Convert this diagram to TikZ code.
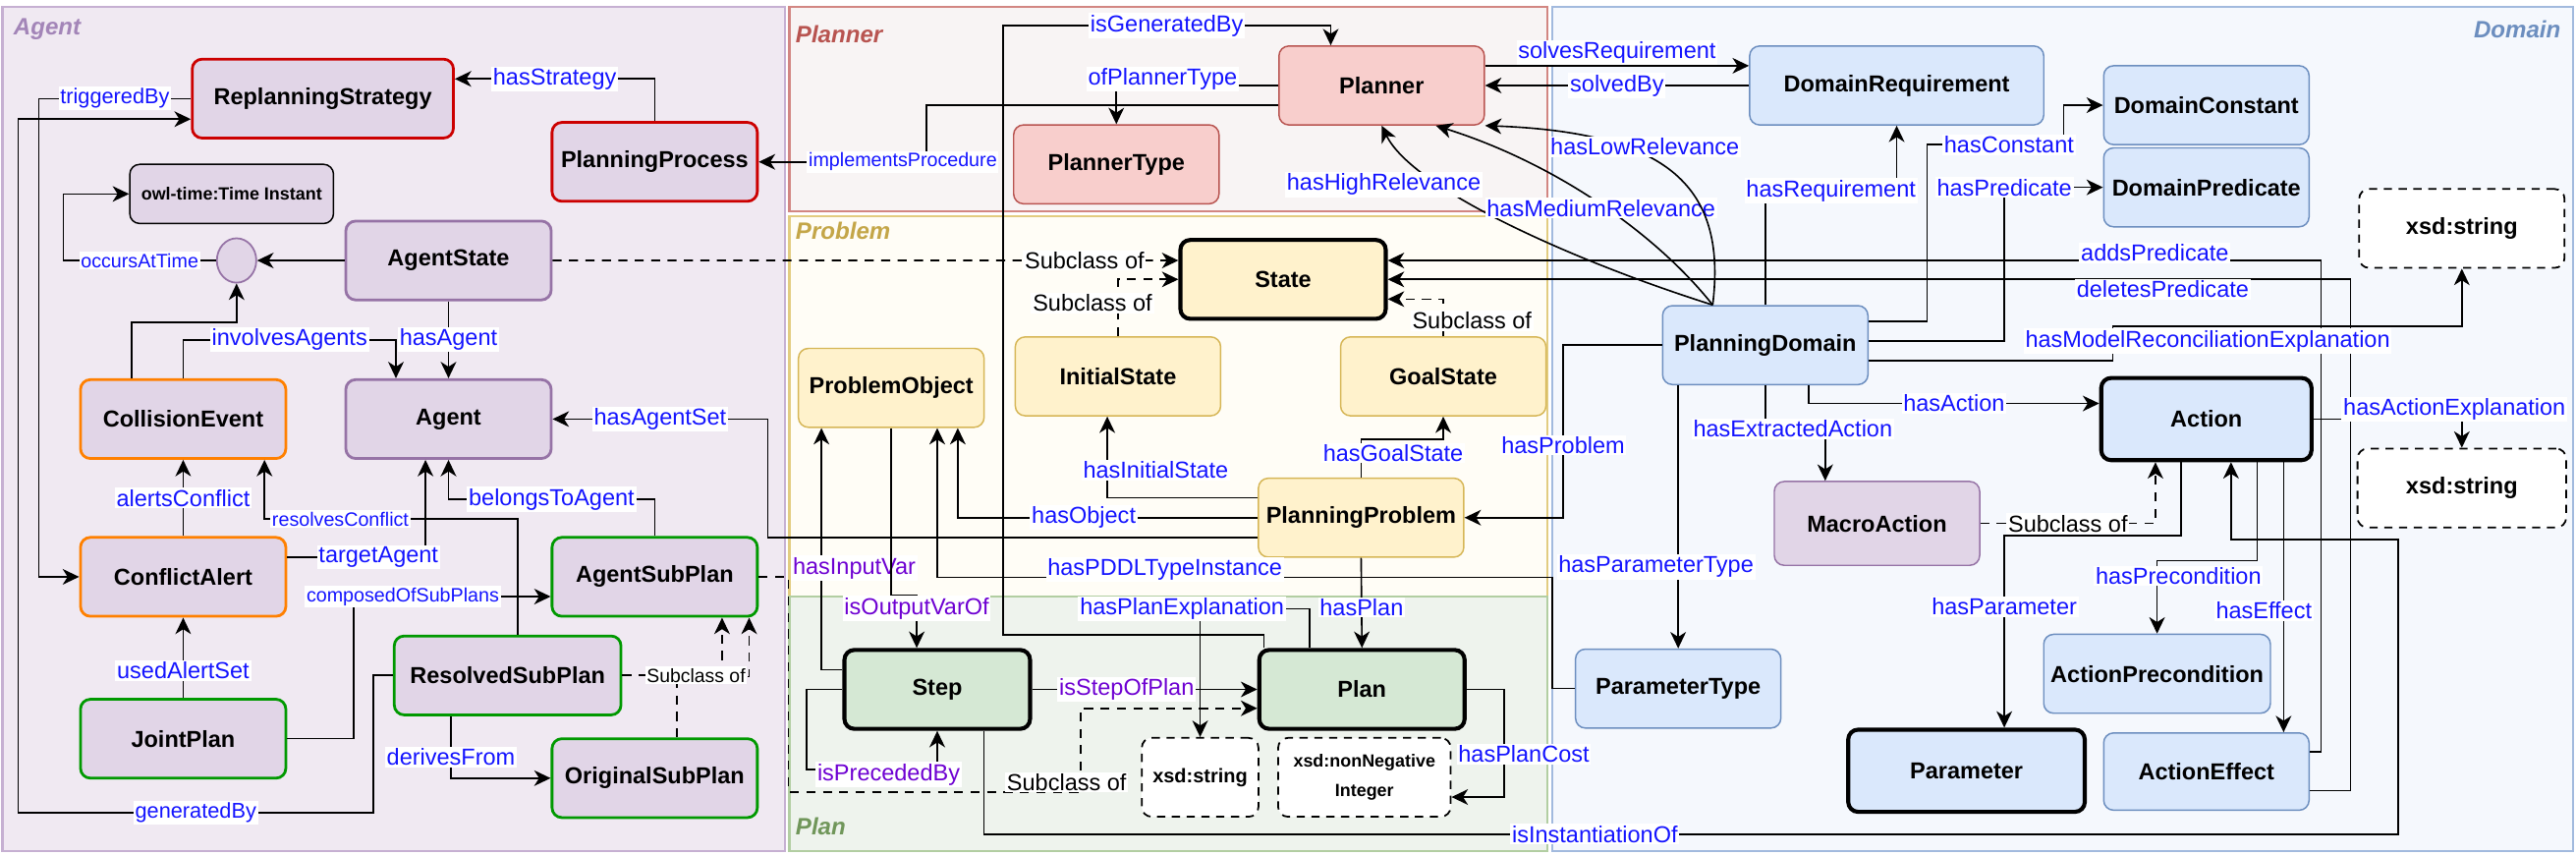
\documentclass[tikz,border=0pt]{standalone}
\usepackage{fontspec}
\setmainfont{Liberation Sans}
\usetikzlibrary{shapes, arrows.meta, positioning, calc}

\definecolor{agentpanel}{RGB}{240,233,242}
\definecolor{agentline}{RGB}{198,176,210}
\definecolor{agenttitle}{RGB}{163,133,184}
\definecolor{plannerpanel}{RGB}{248,244,244}
\definecolor{plannerline}{RGB}{210,134,130}
\definecolor{problempanel}{RGB}{255,253,246}
\definecolor{problemline}{RGB}{226,204,128}
\definecolor{problemtitle}{RGB}{196,166,72}
\definecolor{planpanel}{RGB}{238,243,237}
\definecolor{planline}{RGB}{178,206,162}
\definecolor{plantitle}{RGB}{112,150,90}
\definecolor{domainpanel}{RGB}{245,248,253}
\definecolor{domainline}{RGB}{162,186,222}
\definecolor{agentfill}{RGB}{225,213,231}
\definecolor{agentborder}{RGB}{150,115,166}
\definecolor{plannerfill}{RGB}{248,206,204}
\definecolor{plannerborder}{RGB}{184,84,80}
\definecolor{problemfill}{RGB}{255,242,204}
\definecolor{problemborder}{RGB}{214,182,86}
\definecolor{planfill}{RGB}{213,232,212}
\definecolor{domainfill}{RGB}{218,232,252}
\definecolor{domainborder}{RGB}{108,142,191}
\definecolor{redborder}{RGB}{204,0,0}
\definecolor{orangeborder}{RGB}{255,128,0}
\definecolor{greenborder}{RGB}{0,153,0}
\definecolor{relblue}{RGB}{20,20,255}
\definecolor{relpurple}{RGB}{110,0,210}

\tikzset{
  cls/.style={rectangle, rounded corners=1.2mm, minimum width=25mm, minimum height=9.6mm, inner sep=1pt, align=center, font=\fontsize{8}{9.6}\selectfont\bfseries, line width=0.5pt},
  agentcls/.style={cls, fill=agentfill, line width=0.95pt},
  plannercls/.style={cls, fill=plannerfill, draw=plannerborder},
  problemcls/.style={cls, fill=problemfill, draw=problemborder},
  plancls/.style={cls, fill=planfill, draw=black, line width=1.4pt},
  domaincls/.style={cls, fill=domainfill, draw=domainborder},
  corecls/.style={draw=black, line width=1.4pt},
  xsdcls/.style={cls, fill=white, draw=black, dash pattern=on 1mm off 0.8mm, line width=0.6pt},
  rel/.style={-{Stealth[length=2mm, width=1.9mm, inset=0.6mm]}, line width=0.55pt},
  sub/.style={rel, dash pattern=on 1.1mm off 0.9mm},
  lbl/.style={fill=white, text=relblue, inner sep=0.6pt, font=\fontsize{8}{9.6}\selectfont},
  lbls/.style={lbl, font=\fontsize{6.7}{8}\selectfont},
  lblp/.style={lbl, text=relpurple},
  lblk/.style={lbl, text=black},
  paneltitle/.style={font=\fontsize{8.2}{10}\selectfont\bfseries\itshape, inner sep=0pt},
}

\begin{document}
\begin{tikzpicture}[x=0.2mm, y=-0.2mm]
\useasboundingbox (0,0) rectangle (1568,520);

% panels
\draw[draw=agentline, fill=agentpanel, line width=0.8pt] (1.5,4) rectangle (478,518);
\draw[draw=plannerline, fill=plannerpanel, line width=0.8pt] (480.5,4) rectangle (942,128.5);
\draw[draw=problemline, fill=problempanel, line width=0.8pt] (480.5,131.5) rectangle (942,363);
\draw[draw=planline, fill=planpanel, line width=0.8pt] (480.5,363) rectangle (942,518);
\draw[draw=domainline, fill=domainpanel, line width=0.8pt] (945,4) rectangle (1566,518);
\node[paneltitle, text=agenttitle, anchor=west] (agentlbl) at (8,18) {Agent};
\node[paneltitle, text=plannerborder, anchor=west] (plannerlbl) at (484,21) {Planner};
\node[paneltitle, text=problemtitle, anchor=west] (problemlbl) at (484,140.5) {Problem};
\node[paneltitle, text=plantitle, anchor=west] (planlbl) at (484,503) {Plan};
\node[paneltitle, text=domainborder, anchor=east] (domainlbl) at (1559,18) {Domain};

% agent classes
\node[agentcls, draw=redborder, minimum width=31.8mm] (rs) at (196.5,60) {ReplanningStrategy};
\node[agentcls, draw=redborder] (pp) at (398.5,98.5) {PlanningProcess};
\node[cls, fill=agentfill, draw=black, minimum width=24.8mm, minimum height=7.2mm, font=\fontsize{6.1}{7}\selectfont\bfseries] (owl) at (141,118) {owl-time:Time Instant};
\node[ellipse, fill=agentfill, draw=agentborder, line width=0.6pt, minimum width=4.8mm, minimum height=5.4mm, inner sep=0pt] (tpoint) at (144,158.5) {};
\node[agentcls, draw=agentborder] (as) at (273,158.5) {AgentState};
\node[agentcls, draw=agentborder] (ag) at (273,255) {Agent};
\node[agentcls, draw=orangeborder] (ce) at (111.5,255) {CollisionEvent};
\node[agentcls, draw=orangeborder] (ca) at (111.5,351) {ConflictAlert};
\node[agentcls, draw=greenborder] (jp) at (111.5,449.5) {JointPlan};
\node[agentcls, draw=greenborder] (asp) at (398.5,351) {AgentSubPlan};
\node[agentcls, draw=greenborder, minimum width=27.6mm] (rsp) at (309,411) {ResolvedSubPlan};
\node[agentcls, draw=greenborder] (osp) at (398.5,473.5) {OriginalSubPlan};

% planner and problem classes
\node[plannercls] (pl) at (841,52) {Planner};
\node[plannercls] (pt) at (679.5,100) {PlannerType};
\node[problemcls, corecls] (st) at (781,170) {State};
\node[problemcls] (is) at (680.5,229) {InitialState};
\node[problemcls] (gs) at (878.5,229) {GoalState};
\node[problemcls, minimum width=22.6mm] (po) at (542.5,236) {ProblemObject};
\node[problemcls] (ppb) at (828.5,315) {PlanningProblem};

% plan classes
\node[plancls, minimum width=22.6mm] (step) at (570.5,419.5) {Step};
\node[plancls] (plan) at (829,419.5) {Plan};
\node[xsdcls, minimum width=14.2mm, font=\fontsize{6.8}{8}\selectfont\bfseries] (xs1) at (730.5,473) {xsd:string};
\node[xsdcls, minimum width=21mm, font=\fontsize{6.1}{7.4}\selectfont\bfseries] (xs2) at (830.5,473) {xsd:nonNegative\\[1mm]Integer};

% domain classes
\node[domaincls, minimum width=35.8mm] (dr) at (1154.5,52) {DomainRequirement};
\node[domaincls] (dc) at (1343,64) {DomainConstant};
\node[domaincls] (dp) at (1343,114) {DomainPredicate};
\node[xsdcls] (xs3) at (1498.5,139) {xsd:string};
\node[domaincls] (pd) at (1074.5,210) {PlanningDomain};
\node[domaincls, corecls, minimum width=25.6mm, minimum height=10mm] (act) at (1343,255) {Action};
\node[xsdcls, minimum width=25.4mm] (xs4) at (1498.5,297) {xsd:string};
\node[cls, fill=agentfill, draw=agentborder, minimum height=10.2mm] (ma) at (1142.5,318.5) {MacroAction};
\node[domaincls] (ptype) at (1021.5,419) {ParameterType};
\node[domaincls, corecls, minimum width=28.8mm, minimum height=10mm] (par) at (1197,469) {Parameter};
\node[domaincls, minimum width=27.6mm] (apre) at (1313,410) {ActionPrecondition};
\node[domaincls, minimum height=9.4mm] (aeff) at (1343,469.5) {ActionEffect};

% subclass links
\draw[sub] (as.east) -- node[lblk, pos=0.85]{Subclass of} ($(st.west)+(0,-11.5)$);
\draw[sub] (is.north) |- node[lblk, pos=0.29, xshift=-3.1mm]{Subclass of} (st.west);
\draw[sub] (gs.north) |- node[lblk, pos=0.21, xshift=3.5mm]{Subclass of} ($(st.east)+(0,12)$);
\draw[sub] ($(osp.north)+(13.5,0)$) |- ($(asp.south)+(57.5,36)$) -- ($(asp.south)+(57.5,0)$);
\draw[sub] (rsp.east) -| node[lblk, pos=0.37, font=\fontsize{6.6}{8}\selectfont]{Subclass of} ($(asp.south)+(41,0)$);
\draw[sub] (asp.east) -- ++(18,0) |- ($(plan.west)+(-107.5,62.5)$) node[lblk, xshift=-1.7mm, yshift=1.2mm]{Subclass of} |- ($(plan.west)+(0,11.5)$);
\draw[sub] (ma.east) -| node[lblk, pos=0.25]{Subclass of} ($(act.south)+(-31,0)$);

% relevance curves
\coordinate (rel) at ($(pd.north)+(-32,0)$);
\draw[rel] (rel) .. controls ($(rel)+(-82.5,-26)$) and ($(pl.south)+(19,39)$) .. node[lbl, pos=0.7, xshift=-7mm]{hasHighRelevance} (pl.south);
\draw[rel] (rel) .. controls ($(rel)+(-32.5,-41)$) and ($(pl.south)+(109,24)$) .. node[lbl, pos=0.5, yshift=-0.4mm]{hasMediumRelevance} ($(pl.south)+(33,0)$);
\draw[rel] (rel) .. controls ($(rel)+(9.5,-76)$) and ($(pl.south east)+(106,4)$) .. node[lbl, pos=0.6, yshift=1.1mm]{hasLowRelevance} (pl.south east);

% long links
\draw[rel] ($(plan.north west)+(4,0)$) -- ++(0,-8) -| ($(pl.north)+(-230.5,-12)$) -| node[lbl, pos=0.25]{isGeneratedBy} ($(pl.north)+(-31,0)$);
\draw[rel] ($(step.south)+(28.5,0)$) |- node[lbl, pos=0.716]{isInstantiationOf} ($(act.south)+(116.6,226.4)$) |- ($(act.south)+(15,47)$) -- ($(act.south)+(15,0)$);
\draw[rel] (ptype.west) -| ($(po.south)+(402.5,91)$) -| node[lbl, pos=0.315, yshift=1mm]{hasPDDLTypeInstance} ($(po.south)+(28,0)$);
\draw[rel] ($(ppb.west)+(0,12)$) -| ($(ag.east)+(131,0)$) -- node[lbl]{hasAgentSet} (ag.east);
\draw[rel] ($(aeff.east)+(0,-12)$) -| ($(st.east)+(568,-11.5)$) -- node[lbl, pos=0.178, yshift=0.9mm]{addsPredicate} ($(st.east)+(0,-11.5)$);
\draw[rel] ($(aeff.east)+(0,11.5)$) -| ($(st.east)+(586,0)$) -- node[lbl, pos=0.195, yshift=-1.2mm]{deletesPredicate} (st.east);
\draw[rel] (rsp.west) -- ++(-12,0) |- node[lbls, pos=0.75, font=\fontsize{7.4}{8}\selectfont]{generatedBy} ($(rs.west)+(-105,434.5)$) |- ($(rs.west)+(0,12.5)$);
\draw[rel] (rs.west) -| node[lbls, pos=0.25, font=\fontsize{7.4}{8}\selectfont]{triggeredBy} ($(ca.west)+(-24.5,0)$) -- (ca.west);

% agent links
\draw[rel] (pp.north) |- node[lbl, pos=0.75]{hasStrategy} ($(rs.east)+(0,-12)$);
\draw[rel] (tpoint.west) -| node[lbls, pos=0.25]{occursAtTime} ($(owl.west)+(-40,0)$) -- (owl.west);
\draw[rel] (as.west) -- (tpoint.east);
\draw[rel] ($(ce.north)+(-31.5,0)$) |- ($(tpoint.south)+(0,23.5)$) -- (tpoint.south);
\draw[rel] (ce.north) |- node[lbl, pos=0.75]{involvesAgents} ($(ag.north)+(-32,-23.4)$) -- ($(ag.north)+(-32,0)$);
\draw[rel] (as.south) -- node[lbl]{hasAgent} (ag.north);
\draw[rel] (ca.north) -- node[lbl]{alertsConflict} (ce.south);
\draw[rel] ($(rsp.north)+(6,0)$) |- node[lbls, pos=0.85]{resolvesConflict} ($(ce.south)+(49.5,36)$) -- ($(ce.south)+(49.5,0)$);
\draw[rel] ($(ca.east)+(0,-12)$) -| node[lbl, pos=0.33]{targetAgent} ($(ag.south)+(-14,0)$);
\draw[rel] (asp.north) |- node[lbl, pos=0.75]{belongsToAgent} ($(ag.south)+(0,24)$) -- (ag.south);
\draw[rel] (jp.north) -- node[lbl, pos=0.34]{usedAlertSet} (ca.south);
\draw[rel] (jp.east) -| ($(asp.west)+(-120,12)$) -- node[lbls, pos=0.25]{composedOfSubPlans} ($(asp.west)+(0,12)$);
\draw[rel] ($(rsp.south)+(-34.5,0)$) |- node[lbl, pos=0.33]{derivesFrom} (osp.west);

% planner links
\draw[rel] (pl.west) -| node[lbl, pos=0.357, yshift=0.8mm]{ofPlannerType} (pt.north);
\draw[rel] ($(pl.west)+(0,12)$) -| ($(pp.east)+(102,0)$) -- node[lbls, pos=0.14]{implementsProcedure} (pp.east);
\draw[rel] ($(pl.east)+(0,-12)$) -- node[lbl, anchor=south]{solvesRequirement} ($(dr.west)+(0,-12)$);
\draw[rel] (dr.west) -- node[lbl, pos=0.5]{solvedBy} (pl.east);

% problem links
\draw[rel] (ppb.west) -| node[lbl, pos=0.29]{hasObject} ($(po.south)+(40.5,0)$);
\draw[rel] ($(ppb.west)+(0,-12)$) -| node[lbl, pos=0.67, xshift=5.9mm]{hasInitialState} ($(is.south)+(-6.5,0)$);
\draw[rel] (ppb.north) |- ($(gs.south)+(0,14)$) -- (gs.south);
\node[lbl] (goallbl) at (848,275.7) {hasGoalState};
\draw[rel] (ppb.south) -- node[lbl, pos=0.55]{hasPlan} (plan.north);

% plan links
\draw[rel] ($(plan.north)+(-32,0)$) |- ($(xs1.north)+(0,-78)$) node[lbl, xshift=-2.2mm]{hasPlanExplanation} -- (xs1.north);
\draw[rel] (step.east) -- node[lblp, pos=0.42]{isStepOfPlan} (plan.west);
\draw[rel] (plan.east) -| node[lbl, pos=0.8, xshift=2.4mm]{hasPlanCost} ($(xs2.east)+(32,12)$) -- ($(xs2.east)+(0,12)$);
\draw[rel] (step.west) -| ($(step.south)+(-79.5,23.5)$) -| node[lblp, pos=0.314, yshift=-0.6mm]{isPrecededBy} (step.south);
\draw[rel] ($(step.west)+(0,-12)$) -| node[lblp, pos=0.71, xshift=4mm]{hasInputVar} ($(po.south)+(-42.5,0)$);
\draw[rel] (po.south) |- ($(step.north)+(-12.5,-32)$) -- node[lblp, pos=0.25]{isOutputVarOf} ($(step.north)+(-12.5,0)$);

% domain links
\draw[rel] (pd.north) |- node[lbl, pos=0.75]{hasRequirement} ($(dr.south)+(0,39.7)$) -- (dr.south);
\draw[rel] ($(pd.east)+(0,-14.5)$) -| ($(dc.west)+(-107,24)$) -| node[lbl, pos=0.3]{hasConstant} ($(dc.west)+(-24,0)$) -- (dc.west);
\draw[rel] ($(pd.east)+(0,-2.5)$) -| ($(dp.west)+(-60,0)$) node[lbl]{hasPredicate} -- (dp.west);
\draw[rel] ($(pd.east)+(0,9.5)$) -| ($(xs3.south)+(-212.5,35)$) -| node[lbl, pos=0.136, yshift=-1.8mm]{hasModelReconciliationExplanation} (xs3.south);
\draw[rel] ($(pd.south)+(26.5,0)$) |- node[lbl, pos=0.75]{hasAction} ($(act.west)+(0,-9.5)$);
\draw[rel] (pd.south) |- node[lbl, pos=0.73]{hasExtractedAction} ($(ma.north)+(-31.5,-31.6)$) -- ($(ma.north)+(-31.5,0)$);
\draw[rel] ($(pd.south)+(-53,0)$) -- node[lbl, pos=0.69, xshift=-2.7mm]{hasParameterType} (ptype.north);
\draw[rel] (pd.west) -| node[lbl, pos=0.79]{hasProblem} ($(ppb.east)+(60,0)$) -- (ppb.east);
\draw[rel] ($(act.south)+(-15.3,0)$) |- ($(par.north)+(23,-117)$) -- node[lbl, pos=0.37]{hasParameter} ($(par.north)+(23,0)$);
\draw[rel] ($(act.south)+(31,0)$) |- ($(apre.north)+(0,-44.5)$) -- node[lbl, pos=0.21, xshift=2.6mm]{hasPrecondition} (apre.north);
\draw[rel] ($(act.south)+(47,0)$) -- node[lbl, pos=0.55, xshift=-2.4mm]{hasEffect} ($(aeff.north)+(47,0)$);
\draw[rel] (act.east) -| node[lbl, pos=0.5, xshift=-0.9mm, yshift=1.2mm]{hasActionExplanation} (xs4.north);

\end{tikzpicture}
\end{document}
